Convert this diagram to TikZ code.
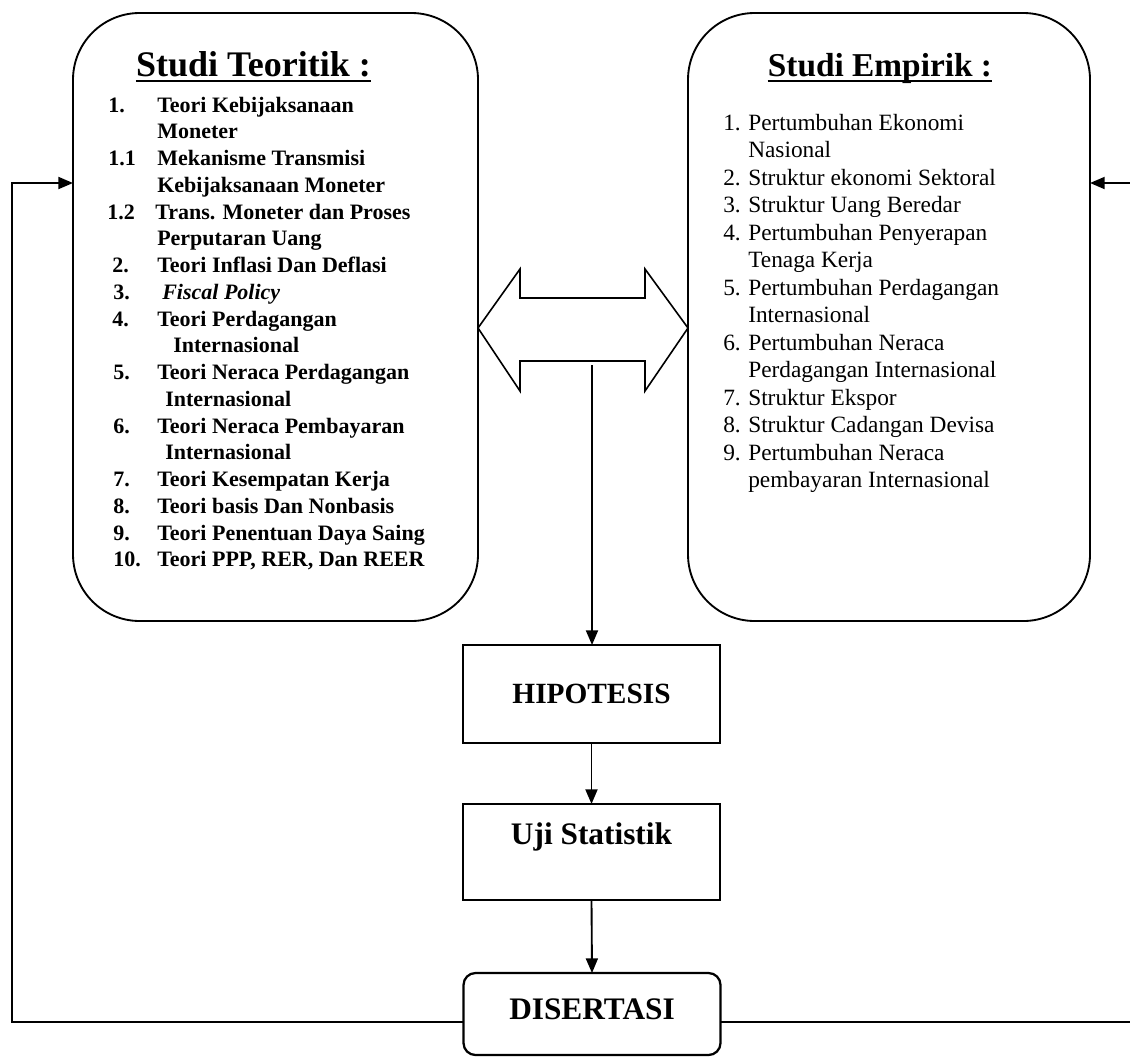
\documentclass[tikz,border=0pt]{standalone}
\usepackage{fontspec}
\setmainfont{Liberation Serif}
\usetikzlibrary{arrows.meta}
\begin{document}
\begin{tikzpicture}[x=0.75pt,y=-0.75pt,
  bigbox/.style={draw, line width=1.4pt, rounded corners=50pt, inner sep=0pt, outer sep=0pt},
  stepbox/.style={draw, line width=1.7pt, inner sep=0pt, outer sep=0pt, minimum width=192.75pt},
  conn/.style={line width=1.4pt, -{Triangle[length=11pt,width=9pt]}},
  lt/.style={anchor=base west, inner sep=0pt, font=\fontsize{16.5}{20}\selectfont\bfseries},
  rt/.style={anchor=base west, inner sep=0pt, font=\fontsize{17.5}{21}\selectfont},
  ttl/.style={anchor=base, inner sep=0pt},
  boxtext/.style={inner sep=0pt, font=\fontsize{23.5}{28}\selectfont\bfseries},
]
\useasboundingbox (0,0) rectangle (1130,1057);

% big boxes
\node[bigbox, minimum width=303.75pt, minimum height=456pt] (left) at (275.5,317) {};
\node[bigbox, minimum width=301.5pt, minimum height=456pt] (right) at (889,317) {};

% titles
\node[ttl, font=\fontsize{27}{32}\selectfont\bfseries] (tL) at (253.5,76) {Studi Teoritik :};
\draw[line width=1.5pt] ([yshift=-3.5pt]tL.base west) -- ([yshift=-3.5pt]tL.base east);
\node[ttl, font=\fontsize{25}{30}\selectfont\bfseries] (tR) at (880,76) {Studi Empirik :};
\draw[line width=1.5pt] ([yshift=-3.5pt]tR.base west) -- ([yshift=-3.5pt]tR.base east);

% left list
\foreach \k/\nx/\num/\tx/\txt in {
 0/108/1./157/Teori Kebijaksanaan,
 1/108//157/Moneter,
 2/108/1.1/157/Mekanisme Transmisi,
 3/108//157/Kebijaksanaan Moneter,
 4/107/1.2/155/Trans. Moneter dan Proses,
 5/108//157/Perputaran Uang,
 6/112/2./157/Teori Inflasi Dan Deflasi,
 7/113/3./162/\textit{Fiscal Policy},
 8/112/4./157/Teori Perdagangan,
 9/112//173/Internasional,
 10/113/5./157/Teori Neraca Perdagangan,
 11/113//165/Internasional,
 12/113/6./157/Teori Neraca Pembayaran,
 13/113//165/Internasional,
 14/113/7./157/Teori Kesempatan Kerja,
 15/113/8./157/Teori basis Dan Nonbasis,
 16/113/9./157/Teori Penentuan Daya Saing,
 17/113/10./157/{Teori PPP, RER, Dan REER}}{
  \node[lt] (ln\k) at (\nx,112+26.75*\k) {\num};
  \node[lt] (lt\k) at (\tx,112+26.75*\k) {\txt};
}

% right list
\foreach \k/\num/\txt in {
 0/1./Pertumbuhan Ekonomi,
 1//Nasional,
 2/2./Struktur ekonomi Sektoral,
 3/3./Struktur Uang Beredar,
 4/4./Pertumbuhan Penyerapan,
 5//Tenaga Kerja,
 6/5./Pertumbuhan Perdagangan,
 7//Internasional,
 8/6./Pertumbuhan Neraca,
 9//Perdagangan Internasional,
 10/7./Struktur Ekspor,
 11/8./Struktur Cadangan Devisa,
 12/9./Pertumbuhan Neraca,
 13//pembayaran Internasional}{
  \node[rt] (rn\k) at (723,130+27.5*\k) {\num};
  \node[rt] (rt\k) at (748,130+27.5*\k) {\txt};
}

% double arrow
\draw[line width=1.2pt, fill=white, line join=miter]
  (478,328) -- (520,269) -- (520,298) -- (645,298) -- (645,269) -- (688,328)
  -- (645,391) -- (645,361) -- (520,361) -- (520,391) -- cycle;
\coordinate (dab) at (592,365);

% process boxes
\node[stepbox, minimum height=73.5pt, font=\fontsize{22}{26}\selectfont\bfseries] (hip) at (591.5,694) {HIPOTESIS};
\node[stepbox, minimum height=72pt] (uji) at (591.5,852) {};
\node[boxtext] (ujit) at (591.5,837) {Uji Statistik};
\node[stepbox, minimum height=61.5pt, rounded corners=9pt] (dis) at (592,1014) {};
\node[boxtext] (dist) at (592,1009) {DISERTASI};

% connectors
\draw[conn] (dab) -- (dab |- hip.north);
\draw[conn] (hip.south) -- (uji.north);
\draw[conn] (uji.south) -- (dis.north);

\coordinate (fl1) at (12,1022);
\coordinate (fl2) at (12,183);
\coordinate (fr1) at (1133,1022);
\coordinate (fr2) at (1133,183);
\draw[conn] ([yshift=-6pt]dis.west) -- (fl1) -- (fl2) -- (left.west |- fl2);
\draw[conn] ([yshift=-6pt]dis.east) -- (fr1) -- (fr2) -- (right.east |- fr2);
\end{tikzpicture}
\end{document}
